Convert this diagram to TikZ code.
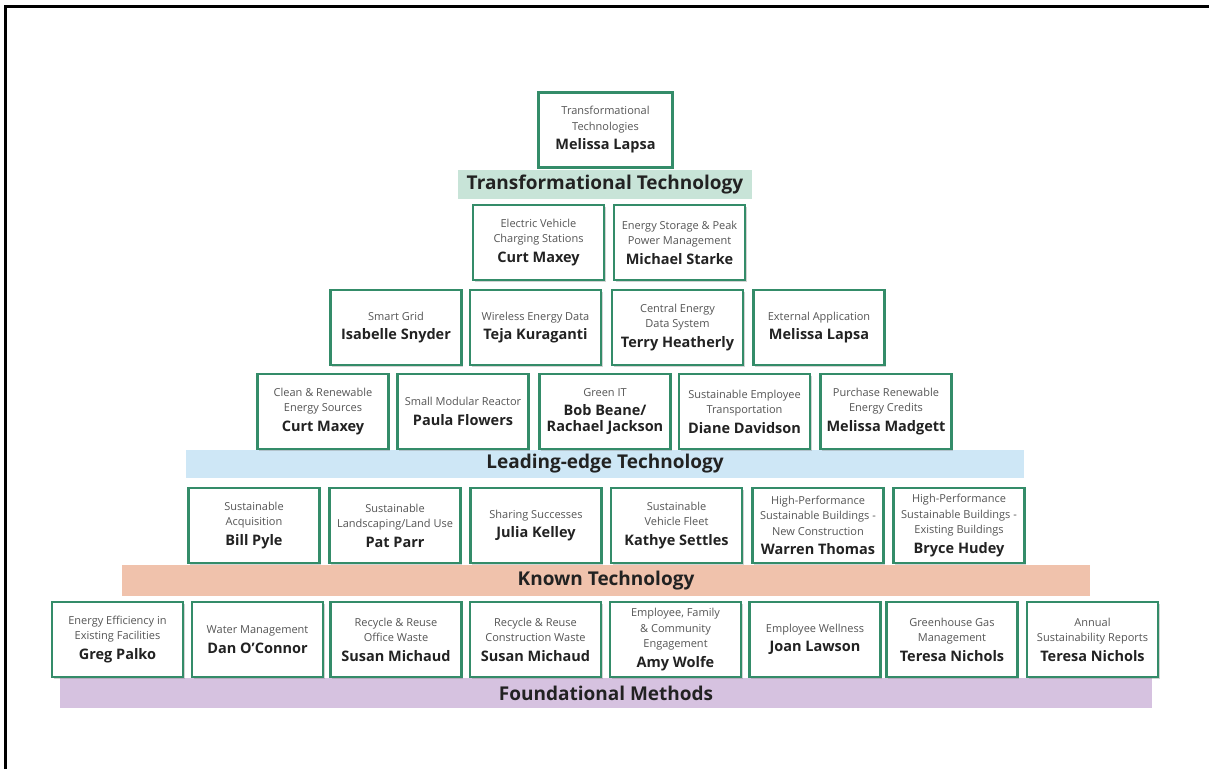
\documentclass[tikz,border=0pt]{standalone}
\usepackage{fontspec}
\setmainfont{Open Sans}
\usetikzlibrary{shadows}

\definecolor{boxgreen}{RGB}{52,140,105}
\definecolor{smallgray}{RGB}{85,85,85}
\definecolor{namegray}{RGB}{34,34,34}
\definecolor{transband}{RGB}{200,228,216}
\definecolor{leadband}{RGB}{206,231,246}
\definecolor{knownband}{RGB}{240,194,172}
\definecolor{foundband}{RGB}{214,194,224}

\newcommand{\namefont}{\fontsize{14.5}{18}\selectfont\bfseries\color{namegray}}
\newcommand{\who}[2]{#1\\[4pt]\namefont #2}

\begin{document}
\begin{tikzpicture}[%
 x=1pt,y=-1pt,
 block/.style={
 	rectangle,
 	draw=boxgreen,
 	line width=2.4pt,
 	fill=white,
 	align=center,
 	inner sep=1pt,
 	minimum width=131pt,
 	minimum height=75pt,
 	text=smallgray,
 	font=\fontsize{11}{15.5}\selectfont,
 	drop shadow={shadow xshift=1.5pt,shadow yshift=-1.5pt,opacity=0.35}
 },
 band/.style={
 	rectangle,
 	inner sep=0pt,
 	text=namegray,
 	font=\fontsize{19}{22}\selectfont\bfseries
 }
 ]
 \useasboundingbox (0,0) rectangle (1209,769);
 \draw[line width=3pt] (5,769) -- (5,6) -- (1209,6);

 % layers
 \path (605,184.5) node[band,fill=transband,minimum width=294pt,minimum height=29pt] (TT) {Transformational Technology}
 (605,464) node[band,fill=leadband,minimum width=838pt,minimum height=28pt] (LT) {Leading-edge Technology}
 (606,580.5) node[band,fill=knownband,minimum width=968pt,minimum height=31pt] (KT) {Known Technology}
 (606,693) node[band,fill=foundband,minimum width=1092pt,minimum height=30pt] (FM) {Foundational Methods};

 % top
 \draw (605.5,130) node[block,minimum width=134pt] (A1) {\who{Transformational\\Technologies}{Melissa Lapsa}};

 \path (538.5,242.5) node[block] (B1) {\who{Electric Vehicle\\Charging Stations}{Curt Maxey}}
 (679.5,242.5) node[block] (B2) {\who{Energy Storage \& Peak\\Power Management}{Michael Starke}};

 \path (396,327.5) node[block] (C1) {\who{Smart Grid}{Isabelle Snyder}}
 (535.5,327.5) node[block] (C2) {\who{Wireless Energy Data}{Teja Kuraganti}}
 (677.5,327.5) node[block] (C3) {\who{Central Energy\\Data System}{Terry Heatherly}}
 (819,327.5) node[block] (C4) {\who{External Application}{Melissa Lapsa}};

 \path (323,411.5) node[block] (D1) {\who{Clean \& Renewable\\Energy Sources}{Curt Maxey}}
 (463,411.5) node[block] (D2) {\who{Small Modular Reactor}{Paula Flowers}}
 (605,411.5) node[block] (D3) {\who{Green IT}{Bob Beane/\\\namefont Rachael Jackson}}
 (744.5,411.5) node[block] (D4) {\who{Sustainable Employee\\Transportation}{Diane Davidson}}
 (886,411.5) node[block] (D5) {\who{Purchase Renewable\\Energy Credits}{Melissa Madgett}};

 % known
 \path (254,525.5) node[block] (E1) {\who{Sustainable\\Acquisition}{Bill Pyle}}
 (395,525.5) node[block] (E2) {\who{Sustainable\\Landscaping/Land Use}{Pat Parr}}
 (536,525.5) node[block] (E3) {\who{Sharing Successes}{Julia Kelley}}
 (676.5,525.5) node[block] (E4) {\who{Sustainable\\Vehicle Fleet}{Kathye Settles}}
 (818,525.5) node[block] (E5) {\who{High-Performance\\Sustainable Buildings -\\New Construction}{Warren Thomas}}
 (959,525.5) node[block] (E6) {\who{High-Performance\\Sustainable Buildings -\\Existing Buildings}{Bryce Hudey}};

 % foundational
 \path (117.5,639.5) node[block] (F1) {\who{Energy Efficiency in\\Existing Facilities}{Greg Palko}}
 (257.5,639.5) node[block] (F2) {\who{Water Management}{Dan O'Connor}}
 (396,639.5) node[block] (F3) {\who{Recycle \& Reuse\\Office Waste}{Susan Michaud}}
 (535.5,639.5) node[block] (F4) {\who{Recycle \& Reuse\\Construction Waste}{Susan Michaud}}
 (675.5,639.5) node[block] (F5) {\who{Employee, Family\\\& Community\\Engagement}{Amy Wolfe}}
 (815,639.5) node[block] (F6) {\who{Employee Wellness}{Joan Lawson}}
 (952,639.5) node[block] (F7) {\who{Greenhouse Gas\\Management}{Teresa Nichols}}
 (1092.5,639.5) node[block] (F8) {\who{Annual\\Sustainability Reports}{Teresa Nichols}};
 \end{tikzpicture}
\end{document}
